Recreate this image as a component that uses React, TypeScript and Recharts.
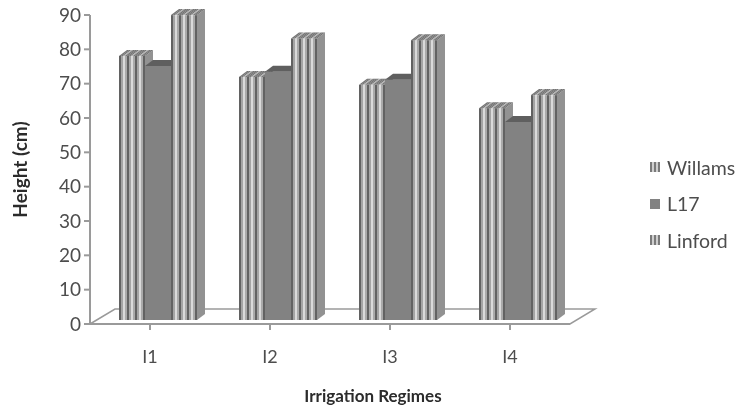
import { BarChart, Bar, XAxis, YAxis, Legend } from "recharts";

const regimes = ["I1", "I2", "I3", "I4"];
const willams = [76.9, 70.8, 68.5, 61.7];
const l17 = [74, 72.3, 70, 57.7];
const linford = [88.8, 82, 81.5, 65.5];
const yTicks = [0, 10, 20, 30, 40, 50, 60, 70, 80, 90];

const chartData = regimes.map((regime, i) => ({
  regime,
  willams: willams[i],
  l17: l17[i],
  linford: linford[i],
}));

const font = "Lato, 'Open Sans', sans-serif";
const axisColor = "#9a9a9a";
const tickColor = "#4d4d4d";
const titleColor = "#2b2b2b";

// depth of the fake 3d bars
const dx = 8;
const dy = 6;
const lift = 4;
const stripeColors = ["#626262", "#a4a4a4", "#dadada", "#aaaaaa"];

function StripedBar(props: any) {
  const { x, y, width, height } = props;
  const left = x + dx;
  const top = y - lift;
  const n = Math.round(width / 2);
  const w = width / n;
  const items = [];
  for (let i = 0; i < n; i++) {
    const c = stripeColors[i % 4];
    const sx = left + i * w;
    items.push(<rect key={"f" + i} x={sx} y={top} width={w + 0.2} height={height} fill={c} />);
    items.push(
      <polygon
        key={"t" + i}
        points={`${sx},${top} ${sx + w + 0.2},${top} ${sx + w + dx + 0.2},${top - dy} ${sx + dx},${top - dy}`}
        fill={i % 4 === 2 ? "#b5b5b5" : "#757575"}
      />
    );
  }
  const right = left + width;
  return (
    <g>
      {items}
      <polygon
        points={`${right},${top} ${right + dx},${top - dy} ${right + dx},${top + height - dy} ${right},${top + height}`}
        fill="#929292"
      />
    </g>
  );
}

function SolidBar(props: any) {
  const { x, y, width, height } = props;
  const left = x + dx;
  const top = y - lift;
  const right = left + width;
  return (
    <g>
      <rect x={left} y={top} width={width} height={height} fill="#828282" />
      <polygon
        points={`${left},${top} ${right},${top} ${right + dx},${top - dy} ${left + dx},${top - dy}`}
        fill="#5f5f5f"
      />
      <polygon
        points={`${right},${top} ${right + dx},${top - dy} ${right + dx},${top + height - dy} ${right},${top + height}`}
        fill="#6a6a6a"
      />
    </g>
  );
}

function LegendIcon({ solid }: { solid: boolean }) {
  if (solid) {
    return (
      <svg width={10} height={10} style={{ marginRight: 7 }}>
        <rect width={10} height={10} fill="#828282" />
      </svg>
    );
  }
  return (
    <svg width={10} height={10} style={{ marginRight: 7 }}>
      {[0, 2, 4, 6, 8].map((sx, i) => (
        <rect key={sx} x={sx} width={2} height={10} fill={i % 2 === 0 ? "#7a7a7a" : "#cfcfcf"} />
      ))}
    </svg>
  );
}

function ChartLegend() {
  const names = ["Willams", "L17", "Linford"];
  return (
    <div style={{ fontFamily: font, fontSize: 19.5, color: tickColor }}>
      {names.map((name) => (
        <div key={name} style={{ display: "flex", alignItems: "center", height: 36.5 }}>
          <LegendIcon solid={name === "L17"} />
          {name}
        </div>
      ))}
    </div>
  );
}

export default function App() {
  return (
    <div style={{ position: "absolute", left: 0, top: 0, width: 740, height: 408, background: "#fff", filter: "blur(0.4px)" }}>
      <BarChart
        width={740}
        height={408}
        data={chartData}
        margin={{ top: 15, right: 80, bottom: 0, left: 0 }}
        barCategoryGap={21}
        barGap={0}
      >
        <polygon points="90,324 115,309 595,309 570,324" fill="#ffffff" stroke={axisColor} strokeWidth={1.5} />
        <XAxis
          dataKey="regime"
          height={84}
          stroke={axisColor}
          strokeWidth={2}
          tickSize={6}
          tickMargin={20}
          tick={{ fontFamily: font, fontSize: 18, fill: tickColor }}
          label={{
            value: "Irrigation Regimes",
            position: "insideBottom",
            offset: 6,
            dx: 43,
            style: { fontFamily: font, fontSize: 17, fontWeight: 700, fill: titleColor },
          }}
        />
        <YAxis
          width={90}
          domain={[0, 90]}
          ticks={yTicks}
          interval={0}
          stroke={axisColor}
          strokeWidth={2}
          tickSize={6}
          tickMargin={3}
          tick={{ fontFamily: font, fontSize: 19, fill: tickColor }}
          label={{
            value: "Height (cm)",
            angle: -90,
            position: "insideLeft",
            offset: 20,
            style: { fontFamily: font, fontSize: 19, fontWeight: 700, fill: titleColor, textAnchor: "middle" },
          }}
        />
        <Legend content={<ChartLegend />} layout="vertical" align="right" verticalAlign="top" width={0} wrapperStyle={{ left: 650, top: 149, width: 90 }} />
        <Bar dataKey="willams" name="Willams" isAnimationActive={false} shape={<StripedBar />} />
        <Bar dataKey="l17" name="L17" isAnimationActive={false} shape={<SolidBar />} />
        <Bar dataKey="linford" name="Linford" isAnimationActive={false} shape={<StripedBar />} />
      </BarChart>
    </div>
  );
}
